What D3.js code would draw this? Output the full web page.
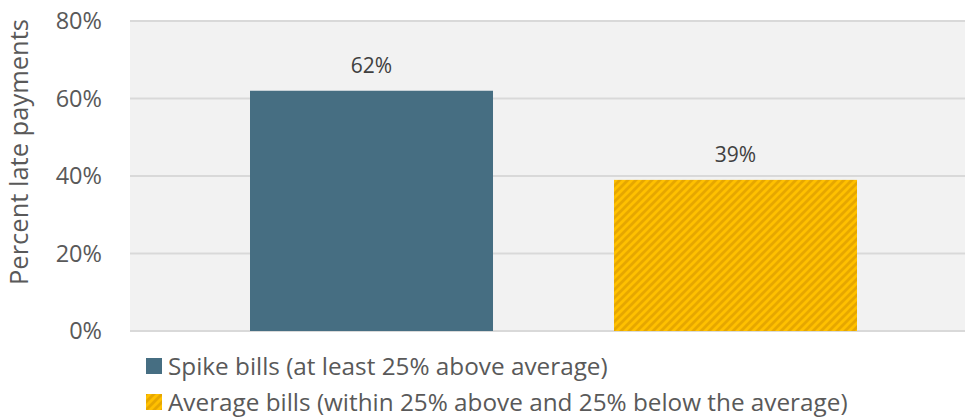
<!DOCTYPE html>
<html>
<head>
<meta charset="utf-8">
<script src="https://cdn.jsdelivr.net/npm/d3@7"></script>
<style>
  html, body { margin: 0; padding: 0; background: #ffffff; }
  svg { display: block; font-family: "Open Sans", "Liberation Sans", sans-serif; }
</style>
</head>
<body>
<svg id="chart" width="965" height="418"></svg>
<script>
// Share of bills paid late, by bill type
const categories = ["Spike bills (at least 25% above average)",
                    "Average bills (within 25% above and 25% below the average)"];
const values = [0.62, 0.39];
const valueLabels = ["62%", "39%"];
const yTicks = [0, 0.2, 0.4, 0.6, 0.8];
const yTickLabels = ["0%", "20%", "40%", "60%", "80%"];
const yTitle = "Percent late payments";

const svg = d3.select("#chart");
const plot = { left: 130, right: 977, top: 21, bottom: 331 };

const x = d3.scaleBand()
  .domain(categories)
  .range([plot.left, plot.right])
  .paddingInner(0.3324)
  .paddingOuter(0.3297);

const y = d3.scaleLinear()
  .domain([0, 0.8])
  .range([plot.bottom, plot.top]);

// Diagonal stripe fill for the second series
const defs = svg.append("defs");
const pat = defs.append("pattern")
  .attr("id", "stripes")
  .attr("patternUnits", "userSpaceOnUse")
  .attr("width", 8).attr("height", 8);
pat.append("rect").attr("width", 8).attr("height", 8).attr("fill", "#ffc000");
pat.append("path")
  .attr("d", "M-2,2 l4,-4 M0,8 l8,-8 M6,10 l4,-4")
  .attr("stroke", "#e6a700").attr("stroke-width", 2.8);

const fills = ["#466e82", "url(#stripes)"];

// Plot background
svg.append("rect")
  .attr("x", plot.left).attr("y", plot.top - 1)
  .attr("width", plot.right - plot.left).attr("height", plot.bottom - plot.top + 1)
  .attr("fill", "#f2f2f2");

// Horizontal gridlines
svg.append("g")
  .selectAll("line")
  .data(yTicks)
  .join("line")
  .attr("x1", plot.left).attr("x2", plot.right)
  .attr("y1", d => y(d)).attr("y2", d => y(d))
  .attr("stroke", "#d9d9d9").attr("stroke-width", 2);

// Y axis tick labels
const yAxis = d3.axisLeft(y)
  .tickValues(yTicks)
  .tickFormat((d, i) => yTickLabels[i])
  .tickSize(0)
  .tickPadding(0);
const gy = svg.append("g")
  .attr("transform", `translate(${plot.left - 28},0)`)
  .call(yAxis);
gy.select(".domain").remove();
gy.selectAll("text")
  .attr("fill", "#595959")
  .style("font-size", "23.5px")
  .style("font-family", "'Open Sans', sans-serif");

// Y axis title
svg.append("text")
  .attr("transform", `translate(28,152) rotate(-90)`)
  .attr("text-anchor", "middle")
  .attr("fill", "#595959")
  .style("font-size", "25.5px")
  .text(yTitle);

// Bars
svg.append("g")
  .selectAll("rect")
  .data(values)
  .join("rect")
  .attr("x", (d, i) => x(categories[i]))
  .attr("width", x.bandwidth())
  .attr("y", d => y(d))
  .attr("height", d => y(0) - y(d))
  .attr("fill", (d, i) => fills[i]);

// Value labels
svg.append("g")
  .selectAll("text")
  .data(values)
  .join("text")
  .attr("x", (d, i) => x(categories[i]) + x.bandwidth() / 2)
  .attr("y", d => y(d) - 18)
  .attr("text-anchor", "middle")
  .attr("fill", "#404040")
  .style("font-size", "21px")
  .text((d, i) => valueLabels[i]);

// Legend
const legend = svg.append("g")
  .selectAll("g")
  .data(categories)
  .join("g")
  .attr("transform", (d, i) => `translate(146,${358 + i * 36})`);
legend.append("rect")
  .attr("width", 16).attr("height", 16)
  .attr("fill", (d, i) => fills[i]);
legend.append("text")
  .attr("x", 22).attr("y", 16.5)
  .attr("fill", "#595959")
  .style("font-size", "24.3px")
  .text(d => d);
</script>
</body>
</html>
